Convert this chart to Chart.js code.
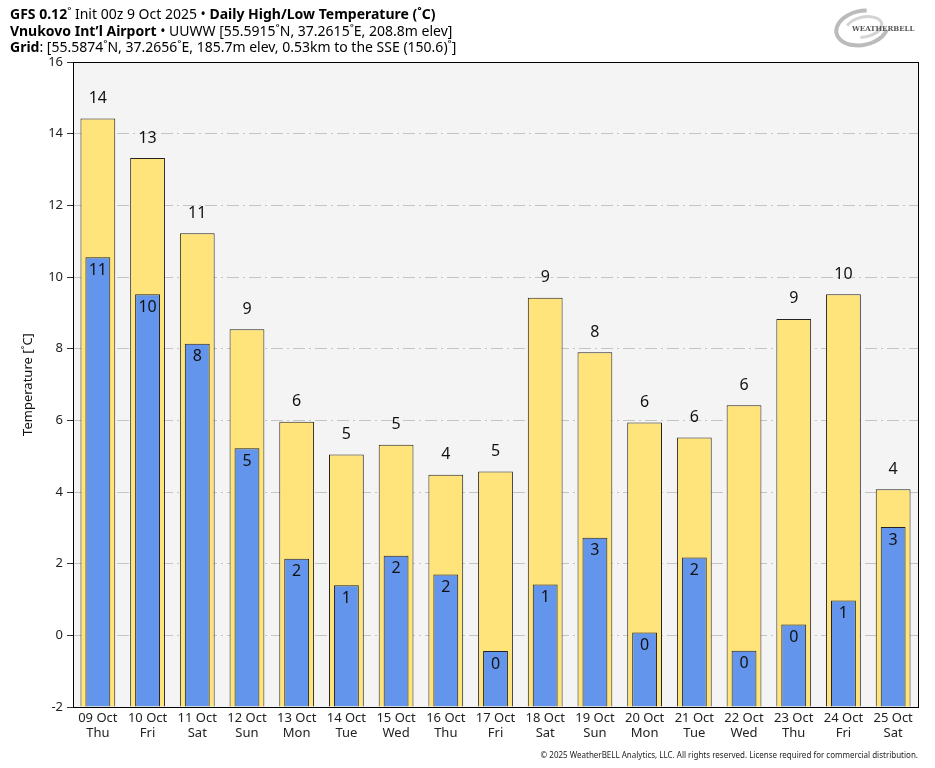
<!DOCTYPE html>
<html>
<head>
<meta charset="utf-8">
<script src="https://cdn.jsdelivr.net/npm/chart.js@4.4.1/dist/chart.umd.min.js"></script>
<style>
  html, body { margin: 0; padding: 0; background: #fff; }
  #wrap { width: 935px; height: 768px; }
</style>
</head>
<body>
<div id="wrap"><canvas id="temps" width="935" height="768"></canvas></div>
<script>
var dates = ['09 Oct', '10 Oct', '11 Oct', '12 Oct', '13 Oct', '14 Oct', '15 Oct', '16 Oct', '17 Oct',
             '18 Oct', '19 Oct', '20 Oct', '21 Oct', '22 Oct', '23 Oct', '24 Oct', '25 Oct'],
    days = ['Thu', 'Fri', 'Sat', 'Sun', 'Mon', 'Tue', 'Wed', 'Thu', 'Fri',
            'Sat', 'Sun', 'Mon', 'Tue', 'Wed', 'Thu', 'Fri', 'Sat'],
    highs = [14.42, 13.32, 11.22, 8.54, 5.96, 5.05, 5.32, 4.48, 4.57,
             9.42, 7.9, 5.94, 5.52, 6.42, 8.83, 9.52, 4.08],
    lows = [10.55, 9.52, 8.14, 5.22, 2.14, 1.4, 2.22, 1.7, -0.44,
            1.42, 2.72, 0.08, 2.17, -0.43, 0.3, 0.97, 3.02],
    yTicks = [-2, 0, 2, 4, 6, 8, 10, 12, 14, 16];

var labels = dates.map(function (d, i) { return [d, days[i]]; });

var FONT = '"Noto Sans", "DejaVu Sans", sans-serif';

// text labels, background, frame, header
var decor = {
    id: 'decor',
    beforeDraw: function (chart) {
        var ctx = chart.ctx, a = chart.chartArea;
        ctx.save();
        ctx.fillStyle = '#f4f4f4';
        ctx.fillRect(a.left, a.top, a.right - a.left, a.bottom - a.top);
        ctx.restore();
    },
    afterDatasetsDraw: function (chart) {
        var ctx = chart.ctx;
        ctx.save();
        ctx.font = '16px ' + FONT;
        ctx.fillStyle = '#111';
        ctx.textAlign = 'center';
        var hiMeta = chart.getDatasetMeta(1), loMeta = chart.getDatasetMeta(0);
        hiMeta.data.forEach(function (bar, i) {
            ctx.textBaseline = 'bottom';
            ctx.fillText(String(Math.round(highs[i])), bar.x, bar.y - 12);
        });
        loMeta.data.forEach(function (bar, i) {
            ctx.textBaseline = 'top';
            var v = Math.round(lows[i]);
            ctx.fillText(String(v === 0 ? 0 : v), bar.x, bar.y + 5);
        });
        ctx.restore();
    },
    afterDraw: function (chart) {
        var ctx = chart.ctx, a = chart.chartArea;
        ctx.save();
        ctx.strokeStyle = '#000';
        ctx.lineWidth = 1;
        ctx.strokeRect(Math.round(a.left) + 0.5, Math.round(a.top) + 0.5,
                       Math.round(a.right - a.left), Math.round(a.bottom - a.top));

        // header lines
        ctx.fillStyle = '#000';
        ctx.textBaseline = 'alphabetic';
        ctx.textAlign = 'left';
        function run(parts, x, y) {
            parts.forEach(function (p) {
                ctx.font = (p[1] ? 'bold ' : '') + '14px ' + FONT;
                ctx.fillText(p[0], x, y);
                x += ctx.measureText(p[0]).width;
            });
        }
        run([['GFS 0.12', 1], ['\u02da Init 00z 9 Oct 2025 \u2022 ', 0], ['Daily High/Low Temperature (\u02daC)', 1]], 10, 19);
        run([['Vnukovo Int\u2019l Airport', 1], [' \u2022 UUWW [55.5915\u02daN, 37.2615\u02daE, 208.8m elev]', 0]], 10, 36);
        run([['Grid', 1], [': [55.5874\u02daN, 37.2656\u02daE, 185.7m elev, 0.53km to the SSE (150.6)\u02da]', 0]], 10, 52);

        // footer
        ctx.font = '8px ' + FONT;
        ctx.textAlign = 'right';
        ctx.fillStyle = '#222';
        ctx.fillText('\u00a9 2025 WeatherBELL Analytics, LLC. All rights reserved. License required for commercial distribution.', 918, 758);

        // rough logo
        ctx.strokeStyle = '#bbb';
        ctx.lineWidth = 4;
        ctx.beginPath();
        ctx.ellipse(862, 28, 26, 17, -0.2, 0.4, Math.PI * 1.6);
        ctx.stroke();
        ctx.strokeStyle = '#d4d4d4';
        ctx.lineWidth = 3;
        ctx.beginPath();
        ctx.ellipse(864, 27, 18, 10, -0.2, 3.6, Math.PI * 2.6);
        ctx.stroke();
        ctx.font = 'bold 7px "DejaVu Serif", serif';
        ctx.fillStyle = '#555';
        ctx.textAlign = 'left';
        ctx.fillText('WEATHERBELL', 852, 31);
        ctx.restore();
    }
};

new Chart(document.getElementById('temps'), {
    type: 'bar',
    data: {
        labels: labels,
        datasets: [
            {
                label: 'Low',
                data: lows,
                base: -2,
                grouped: false,
                backgroundColor: '#6495ed',
                borderColor: '#222',
                borderWidth: 1,
                borderSkipped: 'bottom',
                categoryPercentage: 1,
                barPercentage: 0.5
            },
            {
                label: 'High',
                data: highs,
                base: -2,
                grouped: false,
                backgroundColor: '#ffe37b',
                borderColor: '#222',
                borderWidth: 1,
                borderSkipped: 'bottom',
                categoryPercentage: 1,
                barPercentage: 0.7
            }
        ]
    },
    options: {
        responsive: false,
        animation: false,
        devicePixelRatio: 1,
        layout: { padding: { top: 62, right: 17, left: 0, bottom: 0 } },
        plugins: {
            legend: { display: false },
            tooltip: { enabled: false },
            title: { display: false }
        },
        scales: {
            x: {
                grid: { display: false, drawTicks: false },
                border: { display: false },
                ticks: {
                    color: '#222',
                    font: { family: FONT, size: 13 },
                    padding: 3,
                    maxRotation: 0,
                    autoSkip: false
                },
                afterFit: function (s) { s.height = 61; }
            },
            y: {
                min: -2,
                max: 16,
                afterBuildTicks: function (s) {
                    s.ticks = yTicks.map(function (v) { return { value: v }; });
                },
                grid: {
                    color: '#c4c4c4',
                    tickBorderDash: [],
                    tickColor: '#333',
                    tickLength: 6,
                    lineWidth: 1
                },
                border: { display: false, dash: [12, 4, 2, 4] },
                ticks: {
                    color: '#222',
                    font: { family: FONT, size: 13 },
                    padding: 4
                },
                title: {
                    display: true,
                    text: 'Temperature [\u02daC]',
                    color: '#111',
                    font: { family: FONT, size: 13 },
                    padding: { top: 20, bottom: 0 }
                },
                afterFit: function (s) { s.width = 73; }
            }
        }
    },
    plugins: [decor]
});
</script>
</body>
</html>
